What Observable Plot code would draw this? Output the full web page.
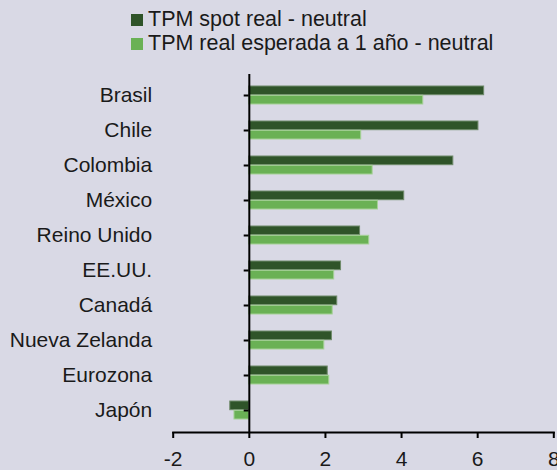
<!DOCTYPE html>
<html><head><meta charset="utf-8">
<script src="https://cdn.jsdelivr.net/npm/d3@7"></script>
<script src="https://cdn.jsdelivr.net/npm/@observablehq/plot@0.6"></script>
<style>
html,body{margin:0;padding:0;background:#d9d9e5;}
body{width:557px;height:470px;overflow:hidden;font-family:"Liberation Sans",Arial,sans-serif;color:#1a1a1a;}
#legend{height:56px;position:relative;}
.sw{position:absolute;left:131px;width:11.5px;height:11.5px;}
.txt{position:absolute;left:148px;font-size:21.5px;line-height:24px;white-space:nowrap;}
</style></head>
<body>
<div id="legend"></div>
<div id="chart"></div>
<script>
const countries = ["Brasil","Chile","Colombia","México","Reino Unido","EE.UU.","Canadá","Nueva Zelanda","Eurozona","Japón"];
const seriesNames = ["TPM spot real - neutral","TPM real esperada a 1 año - neutral"];
const spot = [6.17,6.02,5.36,4.07,2.91,2.41,2.31,2.17,2.06,-0.50];
const expected = [4.57,2.94,3.24,3.38,3.15,2.23,2.19,1.97,2.10,-0.39];
const xTicks = [-2,0,2,4,6,8];
const colors = ["#2f5429","#6ab155"];
const strokes = ["#6f8a6a","#a5d196"];

const legend = document.getElementById("legend");
seriesNames.forEach((s,i)=>{
  const sw = document.createElement("div");
  sw.className="sw";
  sw.style.top = (14 + i*24) + "px";
  sw.style.background = colors[i];
  legend.appendChild(sw);
  const t = document.createElement("div");
  t.className="txt";
  t.style.top = (7 + i*24) + "px";
  t.textContent = s;
  legend.appendChild(t);
});

const rows = countries.map((c,i)=>({country:c, spot:spot[i], expected:expected[i]}));
const font = "'Liberation Sans',Arial,sans-serif";

const plot = Plot.plot({
  width: 557,
  height: 414,
  marginTop: 18,
  marginBottom: 38,
  marginLeft: 172.7,
  marginRight: 3.7,
  style: {background:"transparent", fontFamily:font, fontSize:"21px", color:"#1a1a1a", overflow:"visible"},
  x: {domain:[-2,8], ticks: xTicks},
  y: {domain: countries, paddingInner:0.48, paddingOuter:0.24},
  marks: [
    Plot.barX(rows, {y:"country", x1:0, x2:"spot", fill:colors[0], stroke:strokes[0], strokeWidth:1, insetBottom:9.3}),
    Plot.barX(rows, {y:"country", x1:0, x2:"expected", fill:colors[1], stroke:strokes[1], strokeWidth:1, insetTop:9.3}),
    Plot.ruleX([0], {stroke:"#000", strokeWidth:2}),
    Plot.frame({anchor:"bottom", stroke:"#000", strokeWidth:2}),
    Plot.axisX({ticks:xTicks, tickSize:6, tickPadding:13, stroke:"#000", strokeWidth:2, label:null, fontSize:21, fill:"#1a1a1a", tickFormat: d=>d<0?"-"+Math.abs(d):String(d)}),
    Plot.axisY({anchor:"left", tickSize:0, tickPadding:21, label:null, fontSize:21, fill:"#1a1a1a"}),
    Plot.axisY({anchor:"left", tickSize:5, tickFormat:()=>"", label:null, dx:76, stroke:"#000", strokeWidth:2})
  ]
});
document.getElementById("chart").appendChild(plot);
</script>
</body></html>
